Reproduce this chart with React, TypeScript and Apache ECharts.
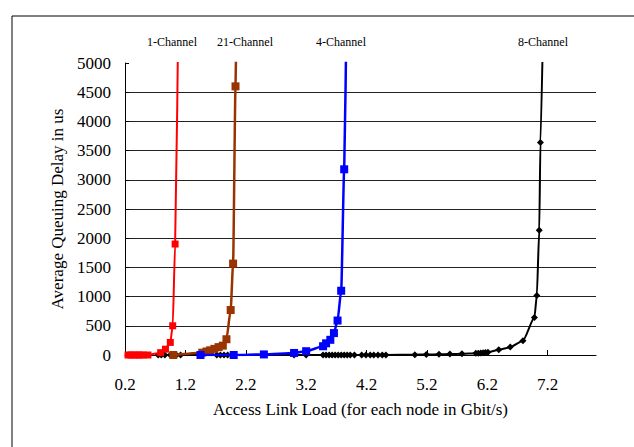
import React, { useEffect, useRef } from "react";
import * as echarts from "echarts";

const seriesNames = ["1-Channel", "21-Channel", "4-Channel", "8-Channel"];

const oneChannel: number[][] = [
  [0.25, 0], [0.3, 0], [0.35, 0], [0.4, 0], [0.45, 0], [0.5, 0], [0.58, 0],
  [0.79, 40], [0.87, 100], [0.95, 215], [0.99, 500], [1.03, 1900], [1.09, 6500],
];

const twentyOneChannel: number[][] = [
  [1.0, 0], [1.48, 40], [1.55, 60], [1.61, 80], [1.68, 105], [1.75, 135],
  [1.82, 160], [1.88, 270], [1.95, 770], [1.99, 1565], [2.03, 4600], [2.05, 6000],
];

const fourChannel: number[][] = [
  [1.45, 0], [2.0, 0], [2.5, 10], [3.0, 35], [3.2, 65], [3.48, 150], [3.53, 200],
  [3.6, 260], [3.66, 375], [3.72, 590], [3.78, 1100], [3.83, 3180], [3.87, 6000],
];

const eightChannel: number[][] = [
  [0.75, 0], [0.8, 0], [0.86, 0], [0.95, 0], [1.05, 0], [1.12, 0],
  [1.72, 0], [1.78, 0], [1.84, 0], [1.9, 0], [3.0, 0], [3.2, 0],
  [3.48, 0], [3.53, 0], [3.58, 0], [3.63, 0], [3.68, 0], [3.73, 0], [3.78, 0],
  [3.83, 0], [3.88, 0], [3.93, 0], [4.0, 0], [4.12, 0], [4.19, 0], [4.26, 0],
  [4.32, 0], [4.39, 0], [4.46, 0], [4.52, 0], [5.0, 5], [5.19, 8], [5.4, 12],
  [5.58, 16], [5.78, 22], [6.01, 30], [6.05, 32], [6.09, 35], [6.13, 38],
  [6.17, 42], [6.21, 48], [6.39, 90], [6.58, 135], [6.79, 245], [6.98, 640],
  [7.02, 1020], [7.06, 2135], [7.08, 3640], [7.13, 6000],
];

const FONT = "Liberation Serif";

export default function App() {
  const ref = useRef<HTMLDivElement>(null);
  useEffect(() => {
    if (!ref.current) return;
    const chart = echarts.init(ref.current, undefined, { renderer: "svg" });
    const mk = (name: string, data: number[][], color: string, symbol: string, size: number, width: number, z: number) => ({
      name,
      type: "line",
      data,
      symbol,
      symbolSize: size,
      showSymbol: true,
      smooth: 0.2,
      smoothMonotone: "x",
      z,
      lineStyle: { color, width },
      itemStyle: { color },
      clip: true,
    });
    chart.setOption({
      animation: false,
      backgroundColor: "#fff",
      textStyle: { fontFamily: FONT },
      grid: { left: 125, right: 38, top: 63, bottom: 92 },
      xAxis: {
        type: "value",
        min: 0.2,
        max: 8.0,
        interval: 1,
        name: "Access Link Load (for each node in Gbit/s)",
        nameLocation: "middle",
        nameGap: 46,
        nameTextStyle: { fontFamily: FONT, fontSize: 17, color: "#000" },
        axisLine: { show: true, onZero: false, lineStyle: { color: "#000", width: 1 } },
        axisTick: { show: true, inside: true, length: 5, lineStyle: { color: "#000" } },
        axisLabel: {
          fontFamily: FONT,
          fontSize: 17,
          color: "#000",
          margin: 21,
          showMaxLabel: false,
          formatter: (v: number) => v.toFixed(1),
        },
        splitLine: { show: false },
      },
      yAxis: {
        type: "value",
        min: 0,
        max: 5000,
        interval: 500,
        name: "Average Queuing Delay in us",
        nameLocation: "middle",
        nameGap: 59,
        nameTextStyle: { fontFamily: FONT, fontSize: 17, color: "#000" },
        axisLine: { show: true, lineStyle: { color: "#000", width: 1 } },
        axisTick: { show: true, inside: true, length: 4, lineStyle: { color: "#000" } },
        axisLabel: {
          fontFamily: FONT,
          fontSize: 17,
          color: "#000",
          margin: 14,
          formatter: (v: number) => String(v),
        },
        splitLine: { show: true, showMaxLine: false, lineStyle: { color: "#222", width: 1 } },
      },
      graphic: [
        {
          type: "rect",
          shape: { x: 12, y: 16, width: 800, height: 600 },
          style: { fill: "none", stroke: "#000", lineWidth: 1 },
          silent: true,
        },
        ...[
          { t: seriesNames[0], x: 172 },
          { t: seriesNames[1], x: 245 },
          { t: seriesNames[2], x: 341 },
          { t: seriesNames[3], x: 543 },
        ].map((d) => ({
          type: "text",
          x: d.x,
          y: 42,
          style: {
            text: d.t,
            fill: "#000",
            fontFamily: FONT,
            fontSize: 12,
            textAlign: "center",
            textVerticalAlign: "middle",
          },
        })),
      ],
      series: [
        mk(seriesNames[3], eightChannel, "#000000", "diamond", 7, 2, 1),
        mk(seriesNames[0], oneChannel, "#FF0000", "rect", 7, 2, 2),
        mk(seriesNames[1], twentyOneChannel, "#993300", "rect", 8, 2.5, 3),
        mk(seriesNames[2], fourChannel, "#0000FF", "rect", 8, 2.5, 4),
      ],
    });
    return () => chart.dispose();
  }, []);
  return <div ref={ref} style={{ position: "fixed", left: 0, top: 0, width: 634, height: 447 }} />;
}
